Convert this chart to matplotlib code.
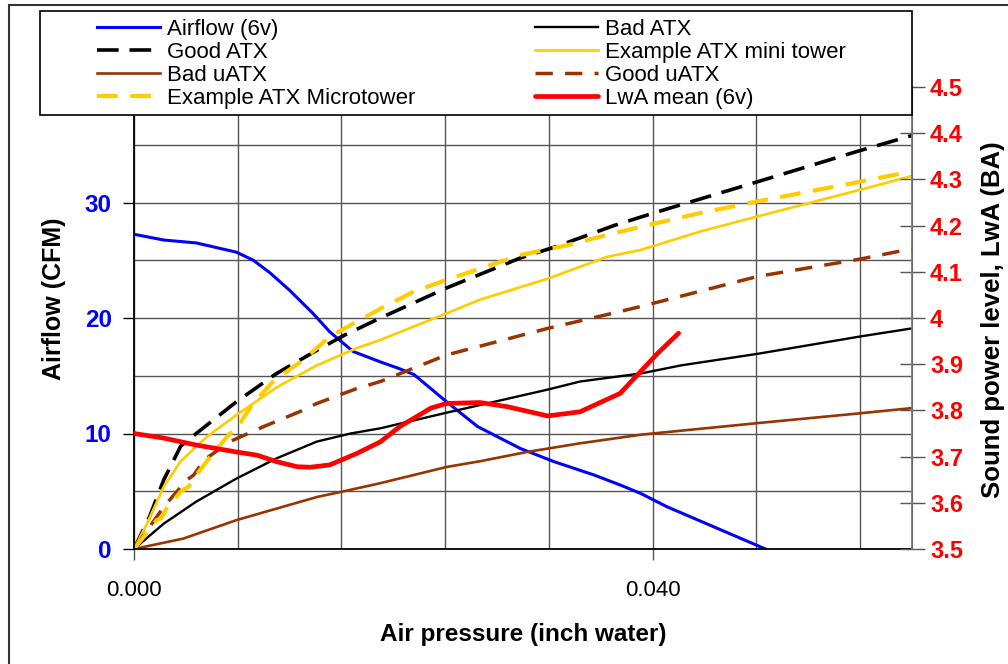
import matplotlib
matplotlib.use("Agg")
import matplotlib.pyplot as plt
from matplotlib.patches import Rectangle
from matplotlib.ticker import MultipleLocator, FuncFormatter

plt.rcParams['font.family'] = ['Liberation Sans', 'DejaVu Sans']

# fan curves, airflow (CFM) against static pressure (inch water)
airflow_x = [0, 0.0023, 0.0048, 0.0079, 0.0092, 0.0105, 0.012, 0.0138, 0.0151, 0.0169,
             0.019, 0.0205, 0.0216, 0.0241, 0.0265, 0.0298, 0.0324, 0.0355, 0.0375,
             0.0391, 0.0411, 0.0487]
airflow_y = [27.25, 26.75, 26.5, 25.7, 25.0, 23.9, 22.4, 20.4, 18.8, 17.1,
             16.2, 15.6, 15.1, 12.75, 10.6, 8.7, 7.56, 6.4, 5.54,
             4.8, 3.66, 0]

good_atx_x = [0, 0.0012, 0.0023, 0.0036, 0.0048, 0.0079, 0.011, 0.0141, 0.0162, 0.019,
              0.0241, 0.0298, 0.0326, 0.037, 0.0401, 0.0481, 0.056, 0.06]
good_atx_y = [0, 2.8, 6.0, 8.9, 10.0, 12.75, 15.2, 17.2, 18.5, 20.0,
              22.6, 25.2, 26.2, 28.0, 29.1, 31.8, 34.5, 35.8]

bad_atx_x = [0, 0.0023, 0.0048, 0.0079, 0.0087, 0.011, 0.0141, 0.0167, 0.019, 0.0241,
             0.0319, 0.0344, 0.0391, 0.0422, 0.0481, 0.056, 0.06]
bad_atx_y = [0, 2.2, 4.1, 6.1, 6.55, 7.85, 9.3, 10.0, 10.45, 11.8,
             13.8, 14.5, 15.2, 15.9, 16.9, 18.4, 19.1]

mini_tower_x = [0, 0.001, 0.0023, 0.0036, 0.0056, 0.0079, 0.011, 0.0141, 0.0172, 0.019,
                0.0241, 0.0267, 0.0319, 0.0365, 0.0391, 0.0437, 0.0481, 0.056, 0.06]
mini_tower_y = [0, 2.2, 5.4, 7.6, 9.7, 11.6, 14.0, 15.9, 17.4, 18.1,
                20.4, 21.6, 23.4, 25.3, 25.9, 27.5, 28.8, 31.1, 32.3]

bad_uatx_x = [0, 0.0038, 0.0079, 0.011, 0.0141, 0.0162, 0.019, 0.0241, 0.0267, 0.0303,
              0.0344, 0.0391, 0.0481, 0.056, 0.06]
bad_uatx_y = [0, 0.9, 2.5, 3.5, 4.5, 5.0, 5.7, 7.1, 7.6, 8.4,
              9.15, 9.9, 10.9, 11.75, 12.2]

good_uatx_x = [0, 0.0012, 0.0023, 0.0041, 0.0046, 0.0054, 0.0074, 0.01, 0.0128, 0.0141,
               0.0172, 0.019, 0.0241, 0.0319, 0.0365, 0.0391, 0.0481, 0.056, 0.06]
good_uatx_y = [0, 1.9, 3.66, 6.0, 6.4, 7.7, 9.3, 10.6, 11.9, 12.6,
               13.9, 14.5, 16.8, 19.1, 20.3, 21.0, 23.6, 25.1, 26.0]

microtower_x = [0, 0.00085, 0.00175, 0.0021, 0.0025, 0.0036, 0.0042, 0.0048, 0.0061, 0.0074,
                0.0079, 0.0084, 0.0092, 0.0108, 0.0131, 0.0151, 0.019, 0.0216, 0.0241,
                0.0298, 0.0334, 0.0365, 0.0391, 0.0437, 0.0481, 0.056, 0.06]
microtower_y = [0, 1.2, 2.5, 2.65, 3.5, 4.96, 5.4, 6.4, 8.3, 10.0,
                10.3, 11.3, 12.6, 14.6, 16.4, 18.4, 20.8, 22.3, 23.3,
                25.45, 26.3, 27.2, 27.9, 29.1, 30.1, 31.8, 32.7]

# sound power, right axis (BA)
lwa_x = [0, 0.0023, 0.0048, 0.0079, 0.0095, 0.011, 0.0126, 0.0136, 0.0151, 0.0172,
         0.019, 0.0205, 0.0229, 0.0241, 0.0267, 0.0288, 0.0319, 0.0344, 0.0375,
         0.0386, 0.0404, 0.042]
lwa_y = [3.75, 3.74, 3.725, 3.71, 3.703, 3.689, 3.678, 3.677, 3.682, 3.707,
         3.732, 3.765, 3.805, 3.815, 3.817, 3.808, 3.788, 3.797, 3.837,
         3.87, 3.924, 3.967]

W, H = 1008, 664
fig = plt.figure(figsize=(W / 100, H / 100), dpi=100)
ax = fig.add_axes([134 / W, 1 - 549 / H, 778 / W, 462 / H])
ax2 = ax.twinx()

BLUE = '#0000FF'
RED = '#FF0000'
GOLD = '#FFCC00'
BROWN = '#993300'

l_air, = ax.plot(airflow_x, airflow_y, color=BLUE, lw=2.2, label='Airflow (6v)')
l_bad, = ax.plot(bad_atx_x, bad_atx_y, color='black', lw=1.7, label='Bad ATX')
l_good, = ax.plot(good_atx_x, good_atx_y, color='black', lw=2.6, dashes=(6, 3),
                  label='Good ATX')
l_mini, = ax.plot(mini_tower_x, mini_tower_y, color=GOLD, lw=1.9,
                  label='Example ATX mini tower')
l_buatx, = ax.plot(bad_uatx_x, bad_uatx_y, color=BROWN, lw=1.9, label='Bad uATX')
l_guatx, = ax.plot(good_uatx_x, good_uatx_y, color=BROWN, lw=2.5, dashes=(5, 3.5),
                   label='Good uATX')
l_micro, = ax.plot(microtower_x, microtower_y, color=GOLD, lw=3.0, dashes=(5, 3),
                   label='Example ATX Microtower')
l_lwa, = ax2.plot(lwa_x, lwa_y, color=RED, lw=3.4, solid_capstyle='round',
                  label='LwA mean (6v)')

ax.set_xlim(0, 0.06)
ax.set_ylim(0, 40)
ax2.set_ylim(3.5, 4.5)

ax.xaxis.set_major_locator(MultipleLocator(0.04))
ax.xaxis.set_minor_locator(MultipleLocator(0.008))
ax.xaxis.set_major_formatter(FuncFormatter(lambda v, p: '%.3f' % v))
ax.yaxis.set_major_locator(MultipleLocator(10))
ax.yaxis.set_minor_locator(MultipleLocator(5))
ax2.yaxis.set_major_locator(MultipleLocator(0.1))
ax2.yaxis.set_major_formatter(FuncFormatter(lambda v, p: '%g' % round(v, 1)))

ax.grid(True, which='both', color='#555555', lw=1.0)
ax.set_axisbelow(True)

ax.tick_params(axis='x', which='major', direction='out', length=8, width=1,
               color='#555555', labelsize=16, pad=14)
ax.tick_params(axis='x', which='minor', length=0)
ax.tick_params(axis='y', which='major', direction='out', length=8, width=1,
               labelsize=17.5, labelcolor=BLUE, pad=8)
ax.tick_params(axis='y', which='minor', length=0)
for t in ax.get_yticklabels():
    t.set_fontweight('bold')

ax2.tick_params(axis='y', direction='inout', length=18, width=1, color='#555555',
                labelsize=17, labelcolor=RED, pad=4)
for t in ax2.get_yticklabels():
    t.set_fontweight('bold')

for s in ('left', 'bottom'):
    ax.spines[s].set_color('black')
    ax.spines[s].set_linewidth(1.3)
ax2.spines['right'].set_color('#777777')
ax2.spines['right'].set_linewidth(1.3)
for a in (ax, ax2):
    a.spines['top'].set_visible(False)
ax2.spines['left'].set_visible(False)
ax2.spines['bottom'].set_visible(False)

ax.set_xlabel('Air pressure (inch water)', fontsize=17.5, fontweight='bold')
ax.xaxis.set_label_coords(0.5, -0.16)
ax.set_ylabel('Airflow (CFM)', fontsize=18, fontweight='bold')
ax.yaxis.set_label_coords(-0.087, 0.541)
ax2.set_ylabel('Sound power level, LwA (BA)', fontsize=18.5, fontweight='bold',
               rotation=90)
ax2.yaxis.set_label_coords(1.089, 0.496)

# legend box drawn over the top of the plot area
fig.patches.append(Rectangle((40 / W, 1 - 115 / H), 872 / W, 104 / H,
                             transform=fig.transFigure, facecolor='white',
                             edgecolor='black', lw=1.2, zorder=2))
# outer chart border
fig.patches.append(Rectangle((9 / W, -0.05), 1.1, 1 - 5 / H + 0.05,
                             transform=fig.transFigure, facecolor='none',
                             edgecolor='#333333', lw=1.5, zorder=2))

handles = [l_air, l_good, l_buatx, l_micro, l_bad, l_mini, l_guatx, l_lwa]
leg = fig.legend(handles=handles, labels=[h.get_label() for h in handles],
                 ncol=2, loc='upper left', mode='expand',
                 bbox_to_anchor=(97 / W, 1 - 114 / H, (846 - 97) / W, 95 / H),
                 frameon=False, fontsize=16, handlelength=2.85,
                 handletextpad=0.3, borderpad=0, borderaxespad=0,
                 labelspacing=0.09)
leg.set_zorder(3)

fig.savefig('out.png', dpi=100)
